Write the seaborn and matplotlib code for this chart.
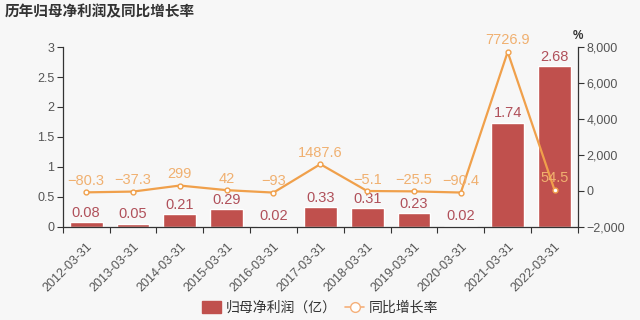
import numpy as np
import pandas as pd
import matplotlib
matplotlib.use("Agg")
import matplotlib.pyplot as plt
import seaborn as sns
from matplotlib.ticker import FuncFormatter
from matplotlib.patches import Patch
from matplotlib.lines import Line2D

dates = ["2012-03-31", "2013-03-31", "2014-03-31", "2015-03-31", "2016-03-31",
         "2017-03-31", "2018-03-31", "2019-03-31", "2020-03-31", "2021-03-31", "2022-03-31"]
profit = [0.08, 0.05, 0.21, 0.29, 0.02, 0.33, 0.31, 0.23, 0.02, 1.74, 2.68]
growth = [-80.3, -37.3, 299, 42, -93, 1487.6, -5.1, -25.5, -90.4, 7726.9, 54.5]
profit_labels = ["0.08", "0.05", "0.21", "0.29", "0.02", "0.33", "0.31", "0.23", "0.02", "1.74", "2.68"]
growth_labels = ["−80.3", "−37.3", "299", "42", "−93", "1487.6", "−5.1", "−25.5", "−90.4", "7726.9", "54.5"]

sns.set_theme(style="white")
plt.rcParams['font.family'] = ['Noto Sans CJK SC', 'DejaVu Sans']
plt.rcParams['axes.unicode_minus'] = False

NUMFONT = ["Liberation Sans", "DejaVu Sans"]
BG = "#f7f7f7"
BAR = "#c0504d"
LINE = "#f0a04b"
BARLBL = "#b0505a"
LINELBL = "#f0b070"
AX = "#333333"
TICKLBL = "#555555"

fig = plt.figure(figsize=(6.4, 3.2), dpi=100, facecolor=BG)
ax = fig.add_axes([0.098, 0.291, 0.805, 0.562], facecolor=BG)

df = pd.DataFrame({"date": dates, "profit": profit, "growth": growth})
sns.barplot(data=df, x="date", y="profit", color=BAR, saturation=1, width=0.7, ax=ax)
ax.set_ylim(0, 3)
ax.set_xlim(-0.5, len(dates) - 0.5)
ax.set_yticks([0, 0.5, 1, 1.5, 2, 2.5, 3])
ax.set_yticklabels(["0", "0.5", "1", "1.5", "2", "2.5", "3"], family=NUMFONT)
ax.set_xlabel("")
ax.set_ylabel("")

for i, (v, t) in enumerate(zip(profit, profit_labels)):
    ax.text(i, v + 0.04, t, ha="center", va="bottom", fontsize=10.5, color=BARLBL,
            family=NUMFONT)

ax2 = ax.twinx()
ax2.set_facecolor("none")
sns.lineplot(x=np.arange(len(dates)), y=growth, ax=ax2, color=LINE, linewidth=1.6,
             marker="o", markersize=3.5, markerfacecolor="white", markeredgecolor=LINE,
             markeredgewidth=1)
ax2.set_ylim(-2000, 8000)
ax2.set_yticks([-2000, 0, 2000, 4000, 6000, 8000])
ax2.yaxis.set_major_formatter(FuncFormatter(lambda v, p: f"{int(v):,}".replace("-", "−")))
ax2.set_xlim(-0.5, len(dates) - 0.5)
for i, (v, t) in enumerate(zip(growth, growth_labels)):
    ax2.text(i, v + 250, t, ha="center", va="bottom", fontsize=10.5, color=LINELBL,
             family=NUMFONT)
ax2.text(1.0, 1.03, "%", transform=ax2.transAxes, ha="center", va="bottom",
         fontsize=8.5, color=AX, fontweight="bold", family=NUMFONT)

for a in (ax, ax2):
    for s in a.spines.values():
        s.set_visible(False)
ax.spines["left"].set_visible(True)
ax.spines["bottom"].set_visible(True)
ax2.spines["right"].set_visible(True)
for s in (ax.spines["left"], ax.spines["bottom"], ax2.spines["right"]):
    s.set_color(AX)
    s.set_linewidth(0.9)

ax.tick_params(axis="y", left=True, length=4, width=0.8, color=AX, labelsize=9,
               labelcolor=TICKLBL, pad=2)
ax2.tick_params(axis="y", right=True, length=4, width=0.8, color=AX, labelsize=9,
                labelcolor=TICKLBL, pad=2)
for lbl in ax2.get_yticklabels():
    lbl.set_family(NUMFONT)
ax.set_xticks(np.arange(len(dates)))
ax.set_xticklabels(dates, rotation=45, ha="right", rotation_mode="anchor",
                   fontsize=9, color=TICKLBL, family=NUMFONT)
ax.tick_params(axis="x", bottom=False, pad=4)
ax.set_xticks(np.arange(len(dates) + 1) - 0.5, minor=True)
ax.tick_params(axis="x", which="minor", bottom=True, length=4, width=0.8, color=AX)

fig.text(0.008, 0.965, "历年归母净利润及同比增长率", ha="left", va="center",
         fontsize=10.5, fontweight="bold", color="#333333")

handles = [Patch(facecolor=BAR, edgecolor=BAR, label="归母净利润（亿）"),
           Line2D([0], [0], color="#f5b07a", marker="o", markerfacecolor="white",
                  markeredgecolor="#f5b07a", markersize=7, linewidth=1.2, label="同比增长率")]
fig.legend(handles=handles, loc="center", bbox_to_anchor=(0.5, 0.038), ncol=2,
           frameon=False, fontsize=10, handlelength=1.4, handleheight=0.9,
           columnspacing=0.6, handletextpad=0.3, labelcolor="#333333")

fig.savefig("out.png", dpi=100, facecolor=BG)
